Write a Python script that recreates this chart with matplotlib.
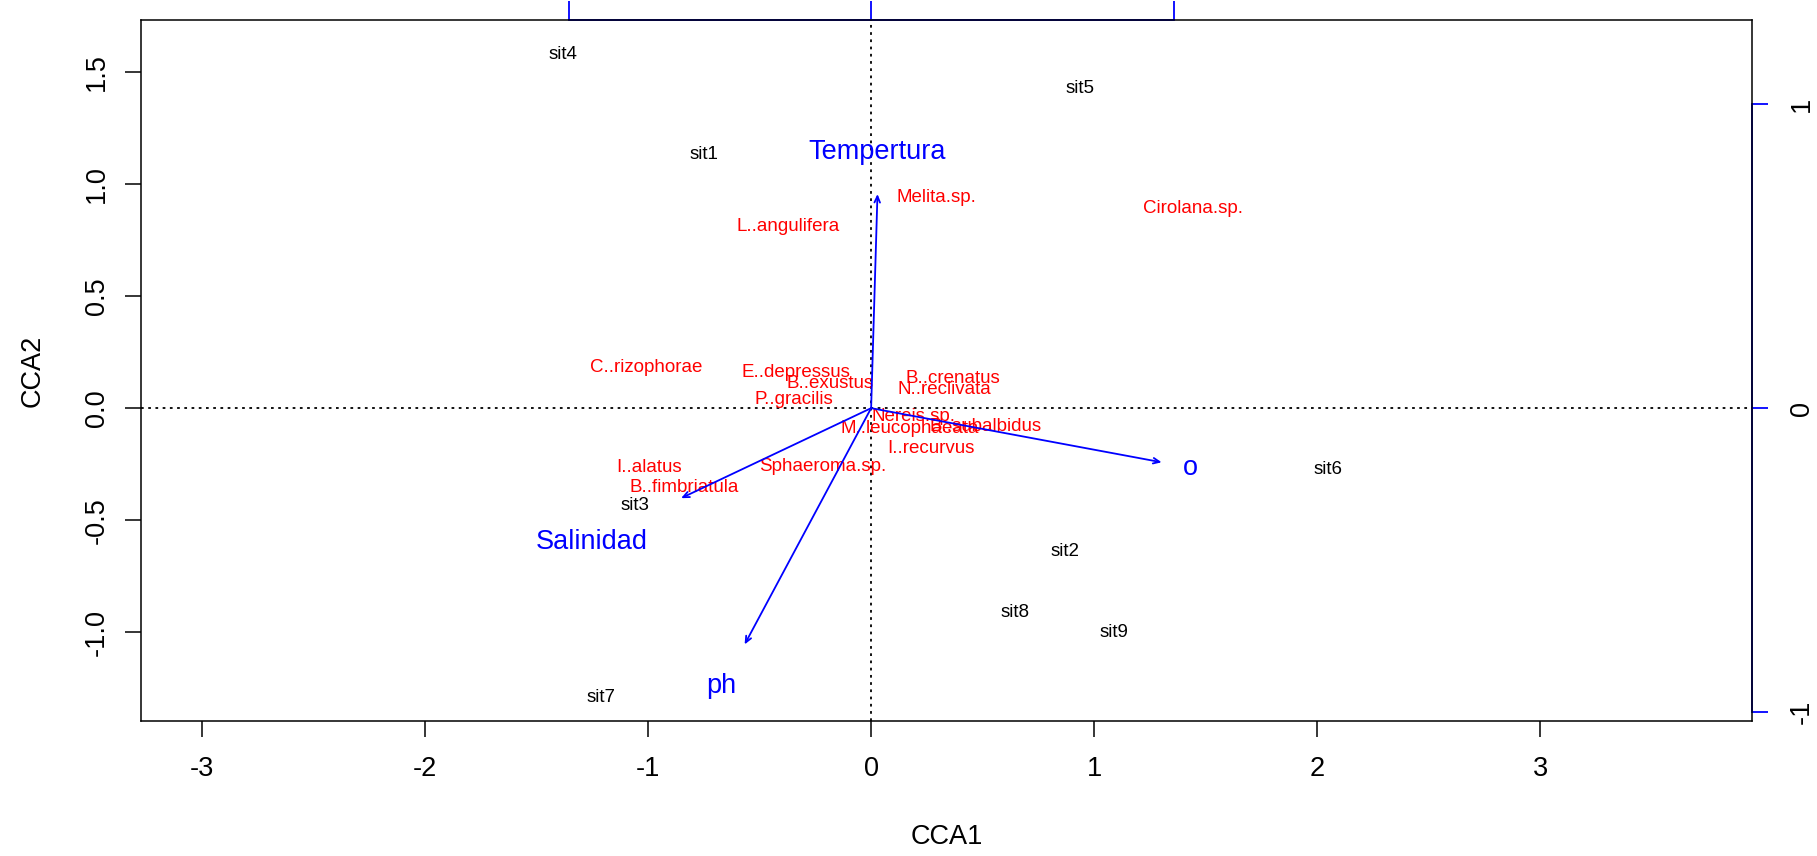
import matplotlib
matplotlib.use("Agg")
import matplotlib.pyplot as plt

plt.rcParams['font.family'] = ['Liberation Sans', 'DejaVu Sans']

# site scores (CCA1, CCA2)
site_names = ['sit1', 'sit2', 'sit3', 'sit4', 'sit5', 'sit6', 'sit7', 'sit8', 'sit9']
site_x = [-0.749, 0.868, -1.060, -1.381, 0.935, 2.049, -1.210, 0.645, 1.091]
site_y = [1.131, -0.640, -0.433, 1.577, 1.427, -0.273, -1.293, -0.910, -1.003]

# species scores
species_names = ['Melita.sp.', 'Cirolana.sp.', 'L..angulifera', 'C..rizophorae',
                 'E..depressus', 'B..exustus', 'B..crenatus', 'N..reclivata',
                 'P..gracilis', 'Nereis.sp.', 'B..subalbidus', 'M..leucophaeata',
                 'I..recurvus', 'I..alatus', 'B..fimbriatula', 'Sphaeroma.sp.']
species_x = [0.293, 1.443, -0.370, -1.008, -0.339, -0.184, 0.365, 0.329,
             -0.345, 0.189, 0.515, 0.172, 0.267, -0.997, -0.837, -0.215]
species_y = [0.940, 0.893, 0.810, 0.183, 0.158, 0.111, 0.132, 0.085,
             0.038, -0.039, -0.081, -0.091, -0.179, -0.267, -0.355, -0.262]

# biplot scores of the environmental variables (original units)
env_names = ['Tempertura', 'o', 'Salinidad', 'ph']
env_x = [0.021, 0.960, -0.628, -0.418]
env_y = [0.704, -0.178, -0.296, -0.777]
# where the labels were put
env_lab_x = [0.028, 1.433, -1.251, -0.671]
env_lab_y = [1.142, -0.267, -0.599, -1.241]
mul = 1.357  # arrow multiplier

W, H = 1817, 856
fig = plt.figure(figsize=(W / 100, H / 100), dpi=100)
L, R, T, B = 141, 1752, 20, 721
ax = fig.add_axes([L / W, (H - B) / H, (R - L) / W, (B - T) / H])
ax.set_xlim(-3.274, 3.950)
ax.set_ylim(-1.396, 1.732)

for s in ax.spines.values():
    s.set_linewidth(1.1)

ax.axhline(0, color='black', lw=1.3, ls=(0, (1.5, 2.5)), zorder=1)
ax.axvline(0, color='black', lw=1.3, ls=(0, (1.5, 2.5)), zorder=1)

ax.set_xticks(range(-3, 4))
ax.set_xticklabels([str(v) for v in range(-3, 4)])
yt = [-1.0, -0.5, 0.0, 0.5, 1.0, 1.5]
ax.set_yticks(yt)
ax.set_yticklabels(['%.1f' % v for v in yt], rotation=90, va='center')
ax.tick_params(axis='both', direction='out', length=11.5, width=1.1, labelsize=19.5)
ax.tick_params(axis='x', pad=14)
ax.tick_params(axis='y', pad=11)

ax.set_xlabel('CCA1', fontsize=19.5, va='center')
ax.xaxis.set_label_coords(0.5, -(836.7 - B) / (B - T))
ax.set_ylabel('CCA2', fontsize=19.5, va='center')
ax.yaxis.set_label_coords(-(L - 33) / (R - L), 0.5)

# blue axes for the biplot arrows
sec_y = ax.secondary_yaxis('right', functions=(lambda v: v / mul, lambda v: v * mul))
sec_y.set_yticks([-1, 0, 1])
sec_y.set_yticklabels(['-1', '0', '1'], rotation=90, va='center')
sec_y.spines['right'].set_color('blue')
sec_y.spines['right'].set_linewidth(1.3)
sec_y.spines['right'].set_bounds(-1, 1)
sec_y.tick_params(direction='out', length=11.5, width=1.3, color='blue',
                  labelsize=19.5, pad=15)

sec_x = ax.secondary_xaxis('top', functions=(lambda v: v / mul, lambda v: v * mul))
sec_x.set_xticks([-1, 0, 1])
sec_x.spines['top'].set_color('blue')
sec_x.spines['top'].set_linewidth(1.3)
sec_x.spines['top'].set_bounds(-1, 1)
sec_x.tick_params(direction='out', length=14, width=1.3, color='blue', labeltop=False)

for name, x, y in zip(site_names, site_x, site_y):
    ax.text(x, y, name, ha='center', va='center', fontsize=13.5, color='black')

for name, x, y in zip(species_names, species_x, species_y):
    ax.text(x, y, name, ha='center', va='center', fontsize=13.5, color='red')

for ex, ey in zip(env_x, env_y):
    ax.annotate('', xy=(ex * mul, ey * mul), xytext=(0, 0),
                arrowprops=dict(arrowstyle='->,head_length=0.45,head_width=0.2',
                                color='blue', lw=1.3, shrinkA=0, shrinkB=0),
                zorder=3)

for name, x, y in zip(env_names, env_lab_x, env_lab_y):
    ax.text(x, y, name, ha='center', va='center', fontsize=19.5, color='blue')

fig.savefig('out.png', dpi=100)
